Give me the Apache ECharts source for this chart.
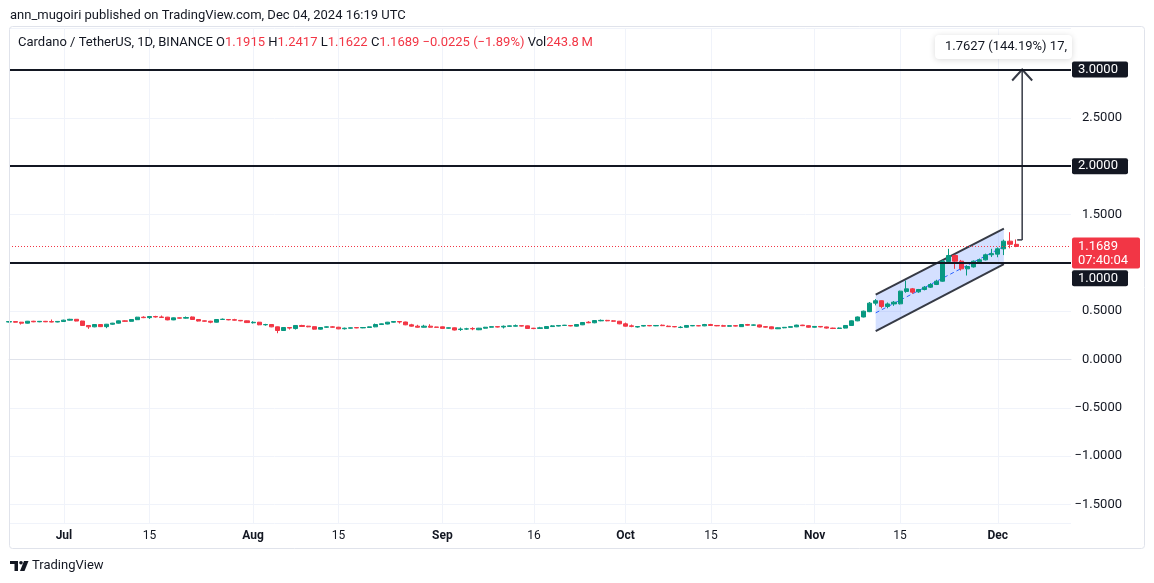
<!DOCTYPE html>
<html>
<head>
<meta charset="utf-8">
<title>Cardano / TetherUS, 1D, BINANCE</title>
<script src="https://cdn.jsdelivr.net/npm/echarts@6/dist/echarts.min.js"></script>
<style>
  html, body { margin: 0; padding: 0; background: #fff; }
  #main { width: 1154px; height: 583px; }
</style>
</head>
<body>
<div id="main"></div>
<script>
// daily candles, [open, close, low, high]
var juneCandles = [ // Jun 22 - 30
  [0.388, 0.392, 0.384, 0.396], [0.392, 0.386, 0.383, 0.395], [0.386, 0.376, 0.362, 0.389],
  [0.376, 0.396, 0.373, 0.399], [0.396, 0.390, 0.386, 0.400], [0.390, 0.395, 0.386, 0.398],
  [0.395, 0.390, 0.387, 0.399], [0.392, 0.388, 0.385, 0.414], [0.388, 0.394, 0.385, 0.398]
];
var julyCandles = [
  [0.393, 0.407, 0.389, 0.412], [0.407, 0.416, 0.403, 0.421], [0.416, 0.398, 0.395, 0.419],
  [0.398, 0.352, 0.348, 0.401], [0.352, 0.338, 0.317, 0.356], [0.338, 0.362, 0.334, 0.366],
  [0.362, 0.340, 0.336, 0.366], [0.340, 0.365, 0.324, 0.368], [0.365, 0.376, 0.360, 0.379],
  [0.376, 0.400, 0.372, 0.404], [0.400, 0.395, 0.390, 0.406], [0.395, 0.414, 0.392, 0.417],
  [0.412, 0.438, 0.408, 0.441], [0.438, 0.433, 0.428, 0.447], [0.433, 0.445, 0.420, 0.450],
  [0.445, 0.440, 0.434, 0.452], [0.440, 0.435, 0.430, 0.455], [0.438, 0.410, 0.406, 0.441],
  [0.410, 0.431, 0.407, 0.434], [0.431, 0.428, 0.424, 0.434], [0.428, 0.434, 0.424, 0.445],
  [0.440, 0.414, 0.411, 0.445], [0.414, 0.398, 0.394, 0.417], [0.400, 0.396, 0.392, 0.404],
  [0.396, 0.386, 0.375, 0.400], [0.386, 0.414, 0.383, 0.417], [0.414, 0.417, 0.410, 0.424],
  [0.414, 0.410, 0.406, 0.418], [0.412, 0.407, 0.403, 0.421], [0.405, 0.400, 0.396, 0.409],
  [0.400, 0.382, 0.378, 0.403]
];
var augustCandles = [
  [0.380, 0.385, 0.372, 0.396], [0.386, 0.359, 0.355, 0.389], [0.359, 0.362, 0.350, 0.369],
  [0.362, 0.338, 0.334, 0.366], [0.338, 0.300, 0.272, 0.341], [0.300, 0.331, 0.296, 0.334],
  [0.331, 0.325, 0.310, 0.336], [0.320, 0.352, 0.310, 0.355], [0.352, 0.342, 0.338, 0.359],
  [0.345, 0.338, 0.334, 0.348], [0.340, 0.314, 0.310, 0.343], [0.314, 0.331, 0.310, 0.334],
  [0.334, 0.338, 0.328, 0.342], [0.338, 0.334, 0.330, 0.345], [0.334, 0.317, 0.314, 0.338],
  [0.318, 0.324, 0.310, 0.330], [0.324, 0.328, 0.321, 0.331], [0.330, 0.327, 0.324, 0.333],
  [0.327, 0.331, 0.324, 0.334], [0.331, 0.338, 0.328, 0.341], [0.338, 0.362, 0.334, 0.372],
  [0.362, 0.369, 0.358, 0.372], [0.367, 0.386, 0.364, 0.389], [0.386, 0.393, 0.382, 0.397],
  [0.393, 0.388, 0.372, 0.397], [0.388, 0.359, 0.355, 0.391], [0.359, 0.345, 0.340, 0.369],
  [0.345, 0.334, 0.330, 0.359], [0.334, 0.345, 0.331, 0.359], [0.345, 0.334, 0.330, 0.365],
  [0.336, 0.333, 0.329, 0.339]
];
var septemberCandles = [
  [0.338, 0.322, 0.318, 0.341], [0.324, 0.328, 0.320, 0.331], [0.328, 0.305, 0.301, 0.331],
  [0.310, 0.315, 0.296, 0.331], [0.315, 0.317, 0.307, 0.328], [0.321, 0.317, 0.303, 0.334],
  [0.308, 0.324, 0.304, 0.327], [0.324, 0.334, 0.320, 0.337], [0.334, 0.340, 0.330, 0.343],
  [0.340, 0.336, 0.332, 0.344], [0.336, 0.344, 0.321, 0.352], [0.343, 0.348, 0.339, 0.351],
  [0.345, 0.350, 0.342, 0.362], [0.350, 0.346, 0.342, 0.353], [0.348, 0.321, 0.317, 0.351],
  [0.324, 0.320, 0.314, 0.327], [0.322, 0.328, 0.318, 0.338], [0.321, 0.341, 0.317, 0.344],
  [0.341, 0.348, 0.338, 0.355], [0.346, 0.352, 0.343, 0.355], [0.352, 0.355, 0.348, 0.358],
  [0.352, 0.347, 0.344, 0.356], [0.345, 0.362, 0.342, 0.365], [0.359, 0.383, 0.356, 0.386],
  [0.386, 0.380, 0.376, 0.396], [0.380, 0.403, 0.375, 0.406], [0.400, 0.405, 0.396, 0.414],
  [0.405, 0.400, 0.396, 0.410], [0.400, 0.396, 0.392, 0.407], [0.396, 0.369, 0.365, 0.399]
];
var octoberCandles = [
  [0.369, 0.345, 0.341, 0.382], [0.348, 0.343, 0.334, 0.362], [0.336, 0.341, 0.330, 0.345],
  [0.346, 0.352, 0.342, 0.355], [0.352, 0.348, 0.345, 0.355], [0.348, 0.352, 0.345, 0.355],
  [0.355, 0.350, 0.346, 0.362], [0.345, 0.340, 0.336, 0.352], [0.341, 0.338, 0.334, 0.344],
  [0.331, 0.334, 0.324, 0.345], [0.334, 0.352, 0.330, 0.355], [0.348, 0.352, 0.345, 0.355],
  [0.350, 0.348, 0.345, 0.353], [0.348, 0.362, 0.345, 0.368], [0.362, 0.352, 0.348, 0.369],
  [0.352, 0.348, 0.345, 0.355], [0.350, 0.345, 0.342, 0.359], [0.344, 0.350, 0.340, 0.356],
  [0.350, 0.346, 0.343, 0.356], [0.340, 0.362, 0.338, 0.365], [0.362, 0.355, 0.350, 0.368],
  [0.355, 0.358, 0.350, 0.362], [0.358, 0.336, 0.332, 0.362], [0.340, 0.335, 0.331, 0.345],
  [0.338, 0.318, 0.314, 0.341], [0.318, 0.328, 0.315, 0.331], [0.328, 0.333, 0.324, 0.336],
  [0.333, 0.340, 0.330, 0.343], [0.338, 0.356, 0.335, 0.360], [0.356, 0.350, 0.346, 0.359],
  [0.350, 0.334, 0.330, 0.353]
];
var novemberCandles = [
  [0.334, 0.342, 0.330, 0.345], [0.342, 0.337, 0.333, 0.345], [0.337, 0.325, 0.320, 0.340],
  [0.325, 0.321, 0.315, 0.329], [0.321, 0.326, 0.316, 0.331], [0.325, 0.352, 0.322, 0.356],
  [0.352, 0.400, 0.348, 0.404], [0.400, 0.440, 0.396, 0.445], [0.440, 0.500, 0.436, 0.506],
  [0.495, 0.583, 0.490, 0.595], [0.583, 0.608, 0.560, 0.625], [0.608, 0.549, 0.530, 0.612],
  [0.549, 0.575, 0.530, 0.590], [0.575, 0.593, 0.555, 0.605], [0.576, 0.707, 0.570, 0.712],
  [0.704, 0.731, 0.690, 0.817], [0.731, 0.697, 0.680, 0.740], [0.700, 0.724, 0.690, 0.730],
  [0.724, 0.748, 0.715, 0.760], [0.748, 0.776, 0.740, 0.790], [0.776, 0.810, 0.770, 0.825],
  [0.810, 1.017, 0.805, 1.030], [1.014, 1.076, 1.000, 1.145], [1.076, 1.017, 0.938, 1.085],
  [1.017, 0.938, 0.920, 1.030], [0.938, 0.962, 0.869, 0.975], [0.958, 1.017, 0.950, 1.025],
  [1.012, 1.031, 1.000, 1.045], [1.031, 1.083, 1.025, 1.095], [1.083, 1.095, 1.060, 1.145]
];
var decemberCandles = [
  [1.090, 1.145, 1.058, 1.160], [1.145, 1.224, 1.080, 1.240],
  [1.224, 1.1915, 1.150, 1.317], [1.1915, 1.1689, 1.1622, 1.2417]
];

var firstDay = Date.UTC(2024, 5, 22);
var lastDay = Date.UTC(2024, 11, 13);
var tickDates = ['2024-07-01', '2024-07-15', '2024-08-01', '2024-08-15', '2024-09-01', '2024-09-16',
                 '2024-10-01', '2024-10-15', '2024-11-01', '2024-11-15', '2024-12-01'];
var tickLabels = ['Jul', '15', 'Aug', '15', 'Sep', '16', 'Oct', '15', 'Nov', '15', 'Dec'];

var levelLines = [3.0, 2.0, 1.0];
var lastClose = 1.1689;
var countdown = '07:40:04';
var channelDates = ['2024-11-11', '2024-12-02'];
var channelUpper = [0.672, 1.353];
var channelLower = [0.293, 0.987];
var measureDate = '2024-12-05';
var measureFrom = 1.2373, measureTo = 3.0;
var measureText = '1.7627 (144.19%) 17,';

var days = [];
for (var t = firstDay; t <= lastDay; t += 86400000) {
  days.push(new Date(t).toISOString().slice(0, 10));
}
var candles = [].concat(juneCandles, julyCandles, augustCandles, septemberCandles,
                        octoberCandles, novemberCandles, decemberCandles);

var FONT = 'Roboto, "Noto Sans", sans-serif';
var INK = '#131722', UP = '#089981', DOWN = '#f23645', GRIDC = '#f0f3fa';

function isTick(i, v) { return tickDates.indexOf(v) >= 0; }
function fmtPrice(v) { return v.toFixed(4).replace('-', '\u2212'); }

var chart = echarts.init(document.getElementById('main'));

var option = {
  animation: false,
  backgroundColor: '#ffffff',
  textStyle: { fontFamily: FONT },
  grid: { left: 9, right: 83, top: 28, bottom: 60 },
  xAxis: {
    type: 'category',
    data: days,
    boundaryGap: false,
    axisLine: { lineStyle: { color: '#e0e3eb' } },
    axisTick: { show: false },
    axisLabel: {
      interval: isTick,
      margin: 7,
      color: INK,
      fontSize: 12,
      formatter: function (v) {
        var s = tickLabels[tickDates.indexOf(v)];
        return /^\d/.test(s) ? s : '{m|' + s + '}';
      },
      rich: { m: { fontWeight: 'bold', fontSize: 12, color: INK } }
    },
    splitLine: { show: true, interval: isTick, lineStyle: { color: GRIDC } }
  },
  yAxis: {
    type: 'value',
    position: 'right',
    min: -1.691,
    max: 3.429,
    splitNumber: 10,
    axisLine: { show: false },
    axisTick: { show: false },
    axisLabel: {
      align: 'right', margin: 51, color: INK, fontSize: 13,
      showMinLabel: false, showMaxLabel: false,
      formatter: fmtPrice
    },
    splitLine: { lineStyle: { color: GRIDC } }
  },
  series: [
    {
      type: 'custom',
      name: 'channel',
      z: 1,
      encode: { x: [0, 1], y: [2, 3, 4, 5] },
      data: [[channelDates[0], channelDates[1], channelUpper[0], channelUpper[1], channelLower[0], channelLower[1]]],
      renderItem: function (params, api) {
        var a = api.value(0), b = api.value(1);
        var t0 = api.coord([a, api.value(2)]), t1 = api.coord([b, api.value(3)]);
        var b0 = api.coord([a, api.value(4)]), b1 = api.coord([b, api.value(5)]);
        var m0 = [(t0[0] + b0[0]) / 2, (t0[1] + b0[1]) / 2];
        var m1 = [(t1[0] + b1[0]) / 2, (t1[1] + b1[1]) / 2];
        return {
          type: 'group',
          children: [
            { type: 'polygon', shape: { points: [t0, t1, b1, b0] }, style: { fill: 'rgba(41,98,255,0.2)' } },
            { type: 'line', shape: { x1: m0[0], y1: m0[1], x2: m1[0], y2: m1[1] },
              style: { stroke: '#2962ff', lineWidth: 1, lineDash: [4, 3] } },
            { type: 'line', shape: { x1: t0[0], y1: t0[1], x2: t1[0], y2: t1[1] },
              style: { stroke: '#363a45', lineWidth: 2 } },
            { type: 'line', shape: { x1: b0[0], y1: b0[1], x2: b1[0], y2: b1[1] },
              style: { stroke: '#363a45', lineWidth: 2 } }
          ]
        };
      }
    },
    {
      type: 'candlestick',
      name: 'ADAUSDT',
      z: 3,
      data: candles,
      barWidth: 4.6,
      itemStyle: { color: UP, color0: DOWN, borderColor: UP, borderColor0: DOWN, borderWidth: 1 },
      markLine: {
        silent: true,
        symbol: ['none', 'none'],
        label: { show: false },
        data: levelLines.map(function (v) {
          return { yAxis: v, lineStyle: { color: INK, width: 2, type: 'solid' } };
        }).concat([{ yAxis: lastClose, lineStyle: { color: DOWN, width: 1, type: [1, 2] } }])
      }
    },
    {
      type: 'custom',
      name: 'measure',
      z: 4,
      encode: { x: 0, y: [1, 2] },
      data: [[measureDate, measureFrom, measureTo]],
      renderItem: function (params, api) {
        var p0 = api.coord([api.value(0), api.value(1)]);
        var p1 = api.coord([api.value(0), api.value(2)]);
        var st = { stroke: '#363a45', lineWidth: 1.5 };
        return {
          type: 'group',
          children: [
            { type: 'line', shape: { x1: p0[0], y1: p0[1], x2: p1[0], y2: p1[1] }, style: st },
            { type: 'line', shape: { x1: p0[0] - 5, y1: p0[1], x2: p0[0], y2: p0[1] }, style: st },
            { type: 'polyline', shape: { points: [[p1[0] - 10, p1[1] + 11], [p1[0], p1[1]], [p1[0] + 10, p1[1] + 11]] },
              style: { stroke: '#363a45', lineWidth: 2, fill: null } }
          ]
        };
      }
    }
  ]
};

chart.setOption(option);

function priceTag(v, lines, bg, dy) {
  var y = chart.convertToPixel({ yAxisIndex: 0 }, v) + dy;
  var two = lines.length > 1;
  return {
    type: 'group', x: 1072, y: y - (two ? 9 : 8), z: 100,
    children: [
      { type: 'rect', z: 100, shape: { x: 0, y: 0, width: two ? 68 : 56, height: two ? 31 : 16, r: 2 }, style: { fill: bg } },
      { type: 'text', z: 101, x: 6, y: two ? 2 : 8,
        style: { text: lines.join('\n'), fill: '#ffffff', font: '13px ' + FONT,
                 verticalAlign: two ? 'top' : 'middle', lineHeight: 14 } }
    ]
  };
}

var graphics = [
  { type: 'rect', z: 90, shape: { x: 9.5, y: 26.5, width: 1135, height: 522, r: 3 },
    style: { fill: null, stroke: '#e0e3eb', lineWidth: 1 } },
  { type: 'text', z: 100, x: 10, y: 16,
    style: { text: 'ann_mugoiri published on TradingView.com, Dec 04, 2024 16:19 UTC',
             font: '13px ' + FONT, fill: INK, verticalAlign: 'middle' } },
  { type: 'text', z: 100, x: 18, y: 43,
    style: {
      text: '{n|Cardano / TetherUS, 1D, BINANCE} {n|O}{r|1.1915} {n|H}{r|1.2417} {n|L}{r|1.1622} {n|C}{r|1.1689} {r|\u22120.0225 (\u22121.89%)} {n|Vol}{r|243.8\u2009M}',
      font: '13px ' + FONT, verticalAlign: 'middle',
      rich: { n: { fill: INK, font: '13px ' + FONT }, r: { fill: DOWN, font: '13px ' + FONT } }
    } },
  { type: 'group', x: 935, y: 35, z: 100, children: [
    { type: 'rect', z: 100, shape: { x: 0, y: 0, width: 137, height: 24, r: 4 },
      style: { fill: '#ffffff', shadowBlur: 6, shadowColor: 'rgba(0,0,0,0.15)', shadowOffsetY: 1 } },
    { type: 'text', z: 101, x: 10, y: 12,
      style: { text: measureText, font: '13px ' + FONT, fill: INK, verticalAlign: 'middle' } }
  ] },
  priceTag(levelLines[0], [fmtPrice(levelLines[0])], INK, 0),
  priceTag(levelLines[1], [fmtPrice(levelLines[1])], INK, 0),
  priceTag(lastClose, [fmtPrice(lastClose), countdown], DOWN, 0),
  priceTag(levelLines[2], [fmtPrice(levelLines[2])], INK, 15.5),
  // TradingView mark
  { type: 'rect', z: 100, shape: { x: 10, y: 561, width: 8, height: 3 }, style: { fill: INK } },
  { type: 'rect', z: 100, shape: { x: 14.5, y: 561, width: 3.5, height: 10 }, style: { fill: INK } },
  { type: 'circle', z: 100, shape: { cx: 21, cy: 562.8, r: 1.8 }, style: { fill: INK } },
  { type: 'polygon', z: 100, shape: { points: [[24, 561], [28.5, 561], [24.5, 571], [20, 571]] }, style: { fill: INK } },
  { type: 'text', z: 100, x: 32, y: 566,
    style: { text: 'TradingView', font: '13px ' + FONT, fill: INK, verticalAlign: 'middle' } }
];

chart.setOption({ graphic: graphics });
</script>
</body>
</html>
